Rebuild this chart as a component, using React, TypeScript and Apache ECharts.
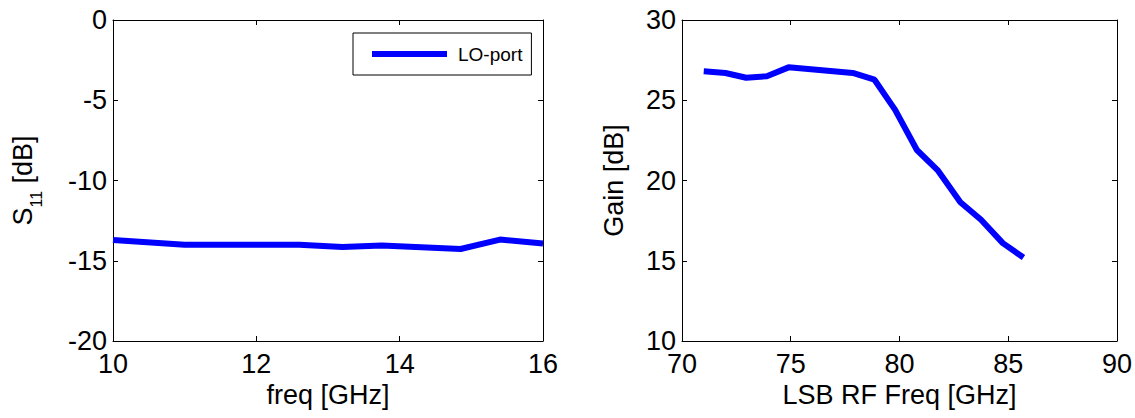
import React, { useEffect, useRef } from "react";
import * as echarts from "echarts";

const s11Freq = [10, 11, 12.6, 13.2, 13.75, 14.85, 15.4, 16];
const s11Values = [-13.7, -14.0, -14.0, -14.15, -14.05, -14.27, -13.68, -13.92];
const s11Name = "LO-port";

const gainFreq = [71, 72, 72.95, 73.9, 74.9, 77.85, 78.85, 79.8, 80.8, 81.75, 82.8, 83.75, 84.75, 85.7];
const gainValues = [26.8, 26.7, 26.4, 26.5, 27.05, 26.7, 26.28, 24.4, 21.9, 20.65, 18.65, 17.55, 16.1, 15.2];

const leftX = { min: 10, max: 16, interval: 2 };
const leftY = { min: -20, max: 0, interval: 5 };
const rightX = { min: 70, max: 90, interval: 5 };
const rightY = { min: 10, max: 30, interval: 5 };

const FONT = "'Liberation Sans', Arial, sans-serif";
const BLUE = "#0000ff";
const FS = 27;

function axisBase(gridIndex: number, range: any, position: string, labels: boolean, margin = 6) {
  return {
    type: "value",
    gridIndex,
    position,
    min: range.min,
    max: range.max,
    interval: range.interval,
    splitLine: { show: false },
    axisLine: { show: true, onZero: false, lineStyle: { color: "#000", width: 1 } },
    axisTick: { show: true, inside: true, length: 5, lineStyle: { color: "#000", width: 1 } },
    axisLabel: {
      show: labels,
      fontSize: FS,
      fontFamily: FONT,
      color: "#000",
      margin,
    },
  };
}

export default function App() {
  const ref = useRef<HTMLDivElement>(null);
  useEffect(() => {
    if (!ref.current) return;
    const chart = echarts.init(ref.current, null, { renderer: "svg" });
    const nameStyle = { fontSize: FS, fontFamily: FONT, color: "#000" };
    chart.setOption({
      animation: false,
      backgroundColor: "#fff",
      grid: [
        { left: 113, top: 20, width: 430, height: 321 },
        { left: 682, top: 20, width: 435, height: 321 },
      ],
      legend: {
        data: [s11Name],
        left: 353,
        top: 33,
        padding: [10, 9, 10, 16],
        borderColor: "#000",
        borderWidth: 1,
        itemWidth: 75,
        itemHeight: 6,
        lineStyle: { width: 6 },
        textStyle: { fontSize: 19, fontFamily: FONT, color: "#000", lineHeight: 22, padding: [0, 0, 0, 6] },
      },
      xAxis: [
        {
          ...axisBase(0, leftX, "bottom", true, 9),
          name: "freq [GHz]",
          nameLocation: "middle",
          nameGap: 39,
          nameTextStyle: nameStyle,
        },
        axisBase(0, leftX, "top", false),
        {
          ...axisBase(1, rightX, "bottom", true, 9),
          name: "LSB RF Freq [GHz]",
          nameLocation: "middle",
          nameGap: 39,
          nameTextStyle: nameStyle,
        },
        axisBase(1, rightX, "top", false),
      ],
      yAxis: [
        {
          ...axisBase(0, leftY, "left", true),
          name: "{a|S}{b|11}{a| [dB]}",
          nameLocation: "middle",
          nameRotate: 90,
          nameGap: 69,
          nameTextStyle: {
            rich: {
              a: { fontSize: FS, fontFamily: FONT, color: "#000", lineHeight: 42 },
              b: { fontSize: 16, fontFamily: FONT, color: "#000", lineHeight: 12, verticalAlign: "bottom" },
            },
          },
        },
        axisBase(0, leftY, "right", false),
        {
          ...axisBase(1, rightY, "left", true),
          name: "Gain [dB]",
          nameLocation: "middle",
          nameRotate: 90,
          nameGap: 55,
          nameTextStyle: nameStyle,
        },
        axisBase(1, rightY, "right", false),
      ],
      series: [
        {
          name: s11Name,
          type: "line",
          xAxisIndex: 0,
          yAxisIndex: 0,
          symbol: "none",
          lineStyle: { color: BLUE, width: 6 },
          itemStyle: { color: BLUE },
          data: s11Freq.map((f, i) => [f, s11Values[i]]),
        },
        {
          name: "Gain",
          type: "line",
          xAxisIndex: 2,
          yAxisIndex: 2,
          symbol: "none",
          lineStyle: { color: BLUE, width: 6 },
          itemStyle: { color: BLUE },
          data: gainFreq.map((f, i) => [f, gainValues[i]]),
        },
      ],
    });
    return () => chart.dispose();
  }, []);
  return (
    <div
      ref={ref}
      style={{ position: "fixed", left: 0, top: 0, width: 1135, height: 418, background: "#fff" }}
    />
  );
}
